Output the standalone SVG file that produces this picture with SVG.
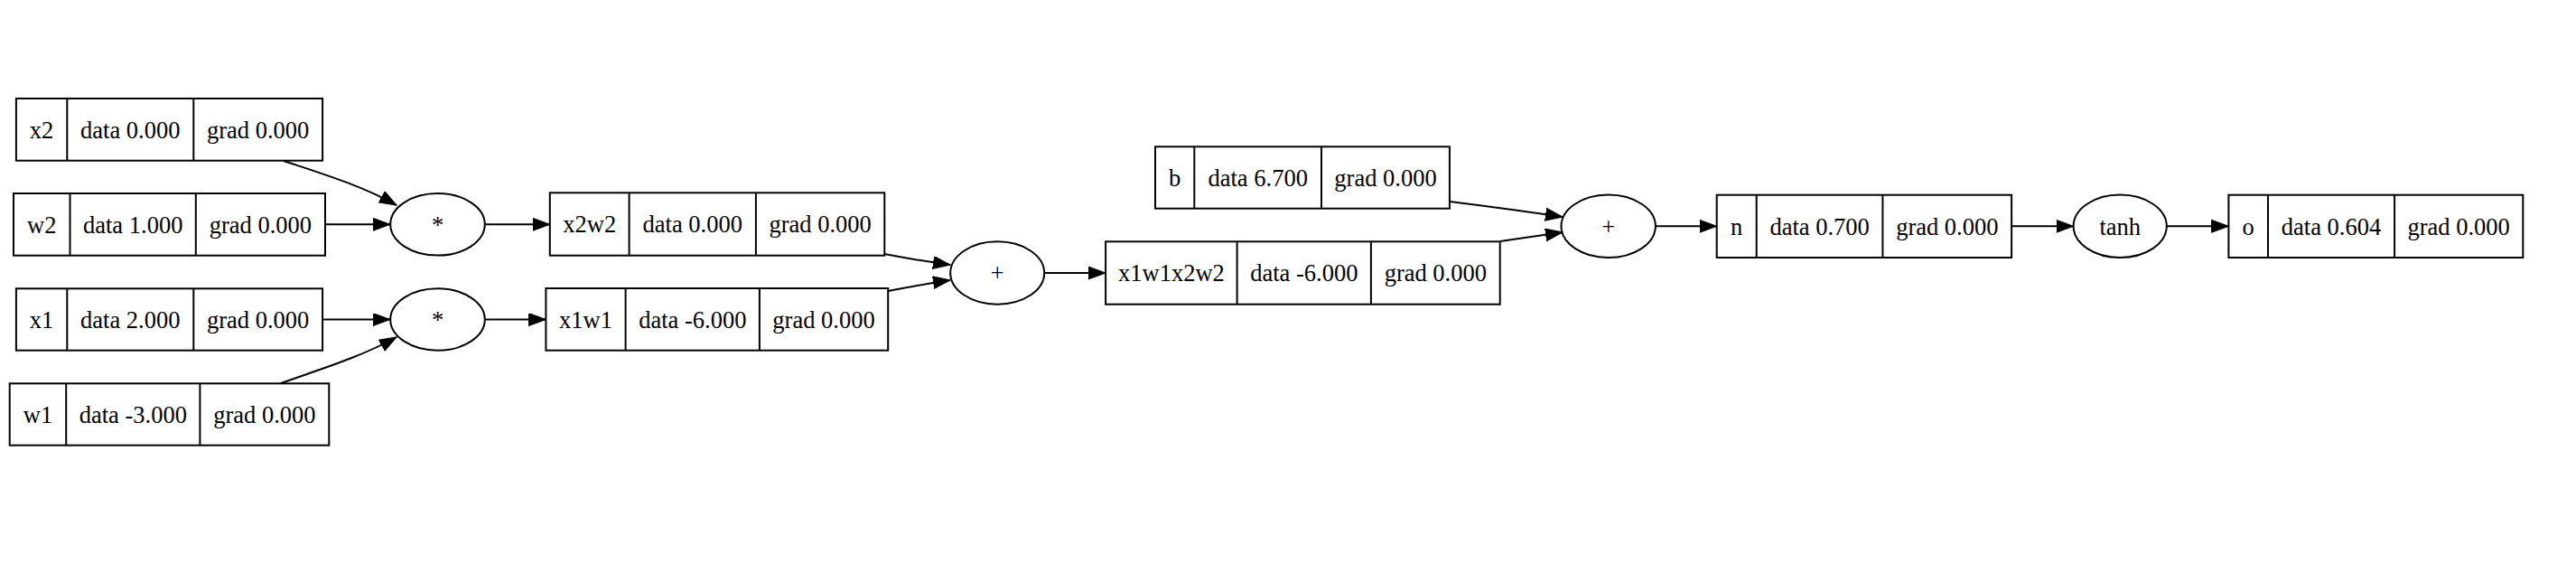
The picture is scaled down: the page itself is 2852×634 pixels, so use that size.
<svg xmlns="http://www.w3.org/2000/svg" width="2852" height="634" viewBox="0 0 2852 634">
<style>
  .box { fill: #ffffff; stroke: #000000; stroke-width: 2; }
  .div { stroke: #000000; stroke-width: 2; }
  .op { fill: #ffffff; stroke: #000000; stroke-width: 2; }
  .t { font-family: "Liberation Serif", "Times New Roman", serif; font-size: 26.5px; fill: #000000; text-anchor: middle; }
  .e { fill: none; stroke: #000000; stroke-width: 2; marker-end: url(#ah); }
</style>
<defs>
  <marker id="ah" markerUnits="userSpaceOnUse" markerWidth="22" markerHeight="16" refX="19" refY="7" orient="auto">
    <path d="M0,0 L19,7 L0,14 Z" fill="#000000" stroke="#000000" stroke-width="1"/>
  </marker>
</defs>
<rect width="2852" height="634" fill="#ffffff"/>

<g id="connectors">
  <path class="e" d="M314,178 C350,190 400,205 439,227"/>
  <path class="e" d="M360,248.3 L432,248.3"/>
  <path class="e" d="M357,353.5 L432,353.5"/>
  <path class="e" d="M311,424 C350,410 400,395 439,373"/>
  <path class="e" d="M537,248.3 L608.8,248.3"/>
  <path class="e" d="M537,353.5 L604.4,353.5"/>
  <path class="e" d="M979,281 C1000,285 1030,290 1052,293"/>
  <path class="e" d="M983,322 C1005,318 1030,313 1052,310"/>
  <path class="e" d="M1156,302 L1224,302"/>
  <path class="e" d="M1605,223 C1645,228 1690,234 1730,240"/>
  <path class="e" d="M1661,267 C1685,263 1710,260 1730,257"/>
  <path class="e" d="M1833,250.3 L1900.7,250.3"/>
  <path class="e" d="M2227,250.3 L2295.6,250.3"/>
  <path class="e" d="M2399,250.3 L2467.4,250.3"/>
</g>

<g id="x2">
  <rect class="box" x="17.9" y="109" width="339.2" height="68.7"/>
  <line class="div" x1="74.3" y1="109" x2="74.3" y2="177.7"/>
  <line class="div" x1="214.3" y1="109" x2="214.3" y2="177.7"/>
  <text class="t" x="46.1" y="152.5">x2</text>
  <text class="t" x="144.3" y="152.5">data 0.000</text>
  <text class="t" x="285.7" y="152.5">grad 0.000</text>
</g>
<g id="w2">
  <rect class="box" x="15" y="214" width="345" height="68.7"/>
  <line class="div" x1="77.5" y1="214" x2="77.5" y2="282.7"/>
  <line class="div" x1="216.8" y1="214" x2="216.8" y2="282.7"/>
  <text class="t" x="46.3" y="257.5">w2</text>
  <text class="t" x="147.2" y="257.5">data 1.000</text>
  <text class="t" x="288.4" y="257.5">grad 0.000</text>
</g>
<g id="x1">
  <rect class="box" x="17.9" y="319.3" width="339.2" height="68.4"/>
  <line class="div" x1="74.3" y1="319.3" x2="74.3" y2="387.7"/>
  <line class="div" x1="214.3" y1="319.3" x2="214.3" y2="387.7"/>
  <text class="t" x="46.1" y="362.7">x1</text>
  <text class="t" x="144.3" y="362.7">data 2.000</text>
  <text class="t" x="285.7" y="362.7">grad 0.000</text>
</g>
<g id="w1">
  <rect class="box" x="10.7" y="424.3" width="353.6" height="68.4"/>
  <line class="div" x1="73.2" y1="424.3" x2="73.2" y2="492.7"/>
  <line class="div" x1="221.4" y1="424.3" x2="221.4" y2="492.7"/>
  <text class="t" x="42" y="467.7">w1</text>
  <text class="t" x="147.3" y="467.7">data -3.000</text>
  <text class="t" x="292.9" y="467.7">grad 0.000</text>
</g>
<g id="mul1">
  <ellipse class="op" cx="484.5" cy="248.3" rx="52.3" ry="34.3"/>
  <text class="t" x="484.5" y="257.5">*</text>
</g>
<g id="mul2">
  <ellipse class="op" cx="484.5" cy="353.5" rx="52.3" ry="34.2"/>
  <text class="t" x="484.5" y="362.7">*</text>
</g>
<g id="x2w2">
  <rect class="box" x="608.8" y="213.3" width="370.5" height="69.4"/>
  <line class="div" x1="696.6" y1="213.3" x2="696.6" y2="282.7"/>
  <line class="div" x1="836.9" y1="213.3" x2="836.9" y2="282.7"/>
  <text class="t" x="652.7" y="257.2">x2w2</text>
  <text class="t" x="766.8" y="257.2">data 0.000</text>
  <text class="t" x="908.1" y="257.2">grad 0.000</text>
</g>
<g id="x1w1">
  <rect class="box" x="604.4" y="319" width="378.8" height="68.7"/>
  <line class="div" x1="692.6" y1="319" x2="692.6" y2="387.7"/>
  <line class="div" x1="840.9" y1="319" x2="840.9" y2="387.7"/>
  <text class="t" x="648.5" y="362.5">x1w1</text>
  <text class="t" x="766.8" y="362.5">data -6.000</text>
  <text class="t" x="912" y="362.5">grad 0.000</text>
</g>
<g id="add1">
  <ellipse class="op" cx="1104.2" cy="302" rx="52" ry="34.7"/>
  <text class="t" x="1104.2" y="311.2">+</text>
</g>
<g id="x1w1x2w2">
  <rect class="box" x="1224.1" y="267.3" width="436.6" height="69.4"/>
  <line class="div" x1="1369.6" y1="267.3" x2="1369.6" y2="336.7"/>
  <line class="div" x1="1517.9" y1="267.3" x2="1517.9" y2="336.7"/>
  <text class="t" x="1296.9" y="311.2">x1w1x2w2</text>
  <text class="t" x="1443.8" y="311.2">data -6.000</text>
  <text class="t" x="1589.3" y="311.2">grad 0.000</text>
</g>
<g id="b">
  <rect class="box" x="1279" y="162.3" width="325.9" height="68.4"/>
  <line class="div" x1="1322.3" y1="162.3" x2="1322.3" y2="230.7"/>
  <line class="div" x1="1463" y1="162.3" x2="1463" y2="230.7"/>
  <text class="t" x="1300.7" y="205.7">b</text>
  <text class="t" x="1392.7" y="205.7">data 6.700</text>
  <text class="t" x="1534" y="205.7">grad 0.000</text>
</g>
<g id="add2">
  <ellipse class="op" cx="1780.7" cy="250.3" rx="52.2" ry="34.7"/>
  <text class="t" x="1780.7" y="259.5">+</text>
</g>
<g id="n">
  <rect class="box" x="1900.7" y="215.7" width="326.4" height="69.3"/>
  <line class="div" x1="1944.7" y1="215.7" x2="1944.7" y2="285"/>
  <line class="div" x1="2084.4" y1="215.7" x2="2084.4" y2="285"/>
  <text class="t" x="1922.7" y="259.5">n</text>
  <text class="t" x="2014.6" y="259.5">data 0.700</text>
  <text class="t" x="2155.8" y="259.5">grad 0.000</text>
</g>
<g id="tanh">
  <ellipse class="op" cx="2347.2" cy="250.3" rx="51.6" ry="34.7"/>
  <text class="t" x="2347.2" y="259.5">tanh</text>
</g>
<g id="o">
  <rect class="box" x="2467.4" y="215.7" width="325.9" height="69.3"/>
  <line class="div" x1="2511" y1="215.7" x2="2511" y2="285"/>
  <line class="div" x1="2651.1" y1="215.7" x2="2651.1" y2="285"/>
  <text class="t" x="2489.2" y="259.5">o</text>
  <text class="t" x="2581" y="259.5">data 0.604</text>
  <text class="t" x="2722.2" y="259.5">grad 0.000</text>
</g>
</svg>
